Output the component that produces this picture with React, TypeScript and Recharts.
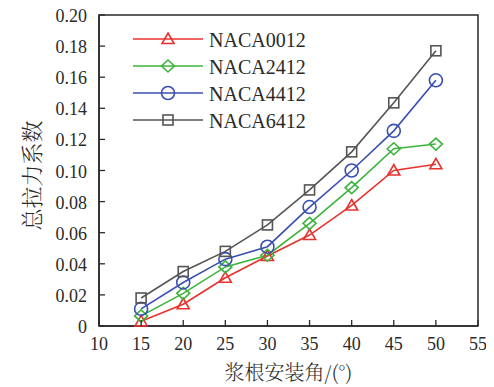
import { LineChart, Line, XAxis, YAxis, ReferenceArea } from 'recharts';

// 桨根安装角 (°)
const angles = [15, 20, 25, 30, 35, 40, 45, 50];
const naca0012 = [0.003, 0.014, 0.031, 0.045, 0.0585, 0.0775, 0.1, 0.104];
const naca2412 = [0.0065, 0.021, 0.038, 0.0455, 0.066, 0.089, 0.114, 0.117];
const naca4412 = [0.011, 0.028, 0.043, 0.051, 0.0765, 0.1, 0.1255, 0.158];
const naca6412 = [0.018, 0.035, 0.048, 0.065, 0.0875, 0.112, 0.1435, 0.177];

const xTicks = [10, 15, 20, 25, 30, 35, 40, 45, 50, 55];
const yTicks = [0, 0.02, 0.04, 0.06, 0.08, 0.1, 0.12, 0.14, 0.16, 0.18, 0.2];

const data = angles.map((a, i) => ({
  angle: a,
  naca0012: naca0012[i],
  naca2412: naca2412[i],
  naca4412: naca4412[i],
  naca6412: naca6412[i],
}));

type Shape = 'triangle' | 'diamond' | 'circle' | 'square';

const series: { key: string; name: string; color: string; shape: Shape }[] = [
  { key: 'naca0012', name: 'NACA0012', color: '#e8322e', shape: 'triangle' },
  { key: 'naca2412', name: 'NACA2412', color: '#3cb43c', shape: 'diamond' },
  { key: 'naca4412', name: 'NACA4412', color: '#3a4fb0', shape: 'circle' },
  { key: 'naca6412', name: 'NACA6412', color: '#555555', shape: 'square' },
];

const SERIF = 'Liberation Serif, serif';
const CJK = 'Noto Serif CJK SC, Noto Sans CJK SC, serif';
const INK = '#2a2a2a';

function Marker({ cx, cy, shape, color }: { cx: number; cy: number; shape: Shape; color: string }) {
  const sw = 1.6;
  if (shape === 'triangle') {
    return (
      <polygon
        points={`${cx},${cy - 6} ${cx + 6},${cy + 4.5} ${cx - 6},${cy + 4.5}`}
        fill="none"
        stroke={color}
        strokeWidth={sw}
      />
    );
  }
  if (shape === 'diamond') {
    return (
      <polygon
        points={`${cx},${cy - 6} ${cx + 6.5},${cy} ${cx},${cy + 6} ${cx - 6.5},${cy}`}
        fill="none"
        stroke={color}
        strokeWidth={sw}
      />
    );
  }
  if (shape === 'circle') {
    return <circle cx={cx} cy={cy} r={6.5} fill="none" stroke={color} strokeWidth={sw} />;
  }
  return <rect x={cx - 5} y={cy - 5} width={10} height={10} fill="none" stroke={color} strokeWidth={sw} />;
}

const renderYTick = ({ x, y, payload }: any) => (
  <g key={`y-${payload.value}`}>
    <line x1={x + 12} x2={x + 18} y1={y} y2={y} stroke={INK} strokeWidth={1.3} />
    <text x={x} y={y + 1} textAnchor="end" dominantBaseline="central" fontSize={18} fontFamily={SERIF} fill={INK}>
      {payload.value === 0 ? '0' : payload.value.toFixed(2)}
    </text>
  </g>
);

const renderXTick = ({ x, y, payload }: any) => (
  <g key={`x-${payload.value}`}>
    <line x1={x} x2={x} y1={y - 11} y2={y - 17} stroke={INK} strokeWidth={1.3} />
    <text x={x} y={y} dy="0.71em" textAnchor="middle" fontSize={18} fontFamily={SERIF} fill={INK}>
      {payload.value}
    </text>
  </g>
);

const LegendBox = () => (
  <svg width={200} height={112} style={{ position: 'absolute', left: 125, top: 18 }}>
    {series.map((s, i) => {
      const y = 13 + i * 27;
      return (
        <g key={s.key}>
          <line x1={0} x2={70} y1={y} y2={y} stroke={s.color} strokeWidth={1.6} />
          <Marker cx={35} cy={y} shape={s.shape} color={s.color} />
          <text x={76} y={y + 1} dominantBaseline="central" fontSize={20} fontFamily={SERIF} fill={INK}>
            {s.name}
          </text>
        </g>
      );
    })}
  </svg>
);

export default function App() {
  return (
    <div style={{ width: 486, height: 379, position: 'relative' }}>
      <style>{'.recharts-surface{overflow:visible}'}</style>
      <LineChart width={486} height={379} data={data} margin={{ top: 7, right: 16, left: 0, bottom: 0 }}>
        <XAxis
          dataKey="angle"
          type="number"
          domain={[10, 55]}
          ticks={xTicks}
          interval={0}
          height={61}
          tickSize={0}
          tickMargin={11}
          tickLine={false}
          stroke={INK}
          strokeWidth={1.5}
          tick={renderXTick}
          label={({ viewBox }: any) => (
            <text
              x={viewBox.x + viewBox.width / 2}
              y={372}
              textAnchor="middle"
              fontSize={20}
              fontWeight={300}
              fontFamily={CJK}
              fill={INK}
            >
              浆根安装角/(°)
            </text>
          )}
        />
        <YAxis
          type="number"
          domain={[0, 0.2]}
          ticks={yTicks}
          interval={0}
          width={91}
          tickSize={0}
          tickMargin={12}
          tickLine={false}
          stroke={INK}
          strokeWidth={1.5}
          tick={renderYTick}
          label={({ viewBox }: any) => {
            const cy = viewBox.y + viewBox.height / 2 + 5;
            return (
              <text
                x={22}
                y={cy}
                transform={`rotate(-90, 22, ${cy})`}
                textAnchor="middle"
                dominantBaseline="central"
                fontSize={22}
                fontWeight={300}
                fontFamily={CJK}
                fill={INK}
              >
                总拉力系数
              </text>
            );
          }}
        />
        <ReferenceArea x1={10} x2={55} y1={0} y2={0.2} fill="none" stroke={INK} strokeWidth={1.5} />
        {series.map((s) => (
          <Line
            key={s.key}
            dataKey={s.key}
            name={s.name}
            stroke={s.color}
            strokeWidth={1.6}
            isAnimationActive={false}
            dot={(p: any) => <Marker key={`${s.key}-${p.index}`} cx={p.cx} cy={p.cy} shape={s.shape} color={s.color} />}
          />
        ))}
      </LineChart>
      <LegendBox />
    </div>
  );
}
